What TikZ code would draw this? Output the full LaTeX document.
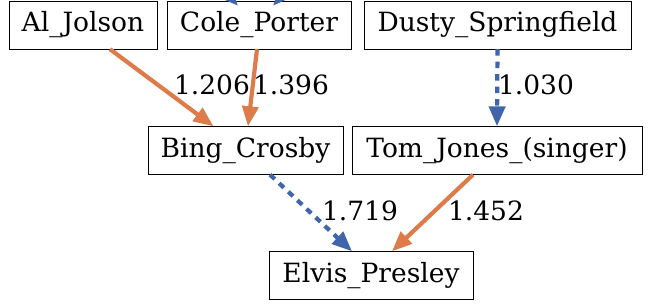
\documentclass[tikz,border=0pt]{standalone}
\usepackage{fontspec}
\setmainfont{DejaVu Serif}
\usepackage{tikz}
\usetikzlibrary{arrows.meta,positioning,calc}

\definecolor{uporange}{HTML}{DD7B4A}
\definecolor{downblue}{HTML}{4065AA}

\begin{document}
\begin{tikzpicture}[
  x=1pt,y=-1pt,
  >={Triangle[length=20pt,width=16pt]},
  artist/.style={draw,thin,minimum height=48pt,inner sep=0pt,font=\fontsize{26.5}{30}\selectfont},
  wlabel/.style={inner sep=0pt,font=\fontsize{26.5}{30}\selectfont},
  pos edge/.style={->,line width=4.2pt,uporange},
  neg edge/.style={->,line width=4.2pt,downblue,dash pattern=on 6.5pt off 6pt}
]
\useasboundingbox (0,0) rectangle (649,306);
\begin{scope}
\clip (0,0) rectangle (649,306);
% top row
\node[artist,minimum width=148pt] (al) at (83,25) {Al\_Jolson};
\node[artist,minimum width=184pt] (cole) at (259,25) {Cole\_Porter};
\node[artist,minimum width=267pt] (dusty) at (497.5,25) {Dusty\_Springfield};
% middle row
\node[artist,minimum width=195pt] (bing) at (245.5,150.5) {Bing\_Crosby};
\node[artist,minimum width=290pt] (tom) at (497,150.5) {Tom\_Jones\_(singer)};
% bottom row
\node[artist,minimum width=204pt] (elvis) at (371,275.5) {Elvis\_Presley};
% edges entering from outside the frame
\coordinate (upl) at (205,-30);
\coordinate (upr) at (305,-30);
\draw[neg edge,solid] (upl) -- ([xshift=-21pt,yshift=-5pt]cole.north);
\draw[neg edge,solid] (upr) -- ([xshift=14pt,yshift=-5pt]cole.north);
% weighted edges
\draw[pos edge] ([xshift=27pt]al.south) -- ([xshift=-32pt]bing.north);
\draw[pos edge] ([xshift=-2pt]cole.south) -- ([xshift=2.5pt]bing.north);
\draw[neg edge] (dusty.south) -- (tom.north);
\draw[neg edge] ([xshift=24.5pt]bing.south) -- ([xshift=-19pt]elvis.north);
\draw[pos edge] ([xshift=-24pt]tom.south) -- ([xshift=21pt]elvis.north);
\node[wlabel] (w1) at (212,85) {1.206};
\node[wlabel] (w2) at (291,85) {1.396};
\node[wlabel] (w3) at (536,85) {1.030};
\node[wlabel] (w4) at (360,211) {1.719};
\node[wlabel] (w5) at (486,211) {1.452};
\end{scope}
\end{tikzpicture}
\end{document}
